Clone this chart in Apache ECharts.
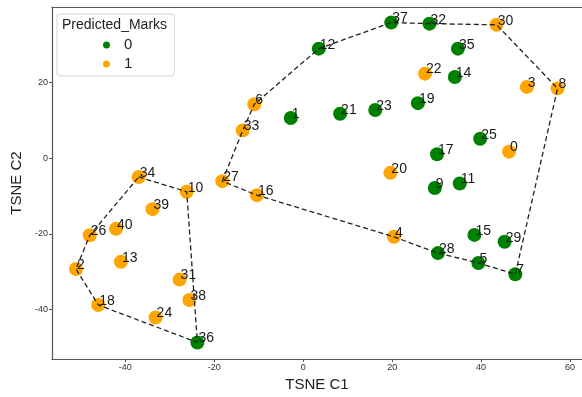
<!DOCTYPE html>
<html>
<head>
<meta charset="utf-8">
<script src="https://cdn.jsdelivr.net/npm/echarts@6/dist/echarts.min.js"></script>
<style>
  html, body { margin: 0; padding: 0; background: #fff; }
  #tsne-chart { width: 582px; height: 397px; }
</style>
</head>
<body>
<div id="tsne-chart"></div>
<script>
// t-SNE coordinates, indexed by point id (0..40)
const tsneC1 = [46.3, -2.8, -51.1, 50.3, 20.4, 39.4, -11.0, 47.7, 57.2, 29.6,
  -26.2, 35.2, 3.5, -41.0, 34.1, 38.5, -10.4, 30.1, -46.1, 25.8,
  19.6, 8.3, 27.4, 16.2, -33.2, 39.8, -48.0, -18.2, 30.3, 45.3,
  43.5, -27.8, 28.4, -13.6, -37.0, 34.8, -23.8, 19.8, -25.6, -33.9, -42.1]
const tsneC2 = [1.7, 10.6, -29.3, 18.8, -20.8, -27.7, 14.2, -30.7, 18.4, -7.9,
  -8.9, -6.7, 28.9, -27.4, 21.4, -20.3, -9.8, 1.0, -38.8, 14.5,
  -3.9, 11.7, 22.3, 12.7, -42.1, 5.1, -20.4, -6.1, -25.1, -22.1,
  35.2, -32.1, 35.5, 7.3, -5.0, 28.9, -48.7, 35.8, -37.5, -13.5, -18.7]
const predictedMarks = [1, 0, 1, 1, 1, 0, 1, 0, 1, 0,
  1, 0, 0, 1, 0, 0, 1, 0, 1, 0,
  1, 0, 1, 0, 1, 0, 1, 1, 0, 0,
  1, 1, 0, 1, 1, 0, 0, 0, 1, 1, 1]
const markNames = ['0', '1']
const markColors = ['#008000', '#ffa500']

// convex hull vertices of the two clusters (point ids, closed)
const hullA = [34, 10, 36, 18, 2, 26, 34]
const hullB = [27, 33, 6, 12, 37, 32, 30, 8, 7, 5, 28, 4, 16, 27]

const xTicks = [-40, -20, 0, 20, 40, 60]
const yTicks = [-40, -20, 0, 20]

const chart = echarts.init(document.getElementById('tsne-chart'))

function pointsOf(mark) {
  const out = []
  for (let i = 0; i < tsneC1.length; i++) {
    if (predictedMarks[i] === mark) out.push([tsneC1[i], tsneC2[i], i])
  }
  return out
}
function hullLine(ids) {
  return ids.map(id => [tsneC1[id], tsneC2[id]])
}

const font = 'Liberation Sans, Arial, sans-serif'

const scatterSeries = markNames.map((name, m) => ({
  name: name,
  type: 'scatter',
  symbolSize: 14,
  z: 2,
  itemStyle: { color: markColors[m], opacity: 1 },
  label: {
    show: true,
    position: [8, 3],
    align: 'left',
    verticalAlign: 'middle',
    fontSize: 14,
    fontFamily: font,
    color: '#1a1a1a',
    formatter: p => String(p.value[2])
  },
  data: pointsOf(m)
}))

const lineSeries = [hullA, hullB].map(h => ({
  type: 'line',
  z: 3,
  silent: true,
  symbol: 'none',
  lineStyle: { color: '#222', width: 1.3, type: [5, 3] },
  data: hullLine(h)
}))

const option = {
  animation: false,
  backgroundColor: '#fff',
  grid: { left: 52, right: -6, top: 7, bottom: 32 },
  title: {
    text: 'Predicted_Marks',
    left: 62,
    top: 18,
    padding: 0,
    textStyle: { fontSize: 14, fontWeight: 'normal', fontFamily: font, color: '#222' }
  },
  legend: {
    data: markNames,
    orient: 'vertical',
    left: 57,
    top: 14,
    padding: [23, 42, 4, 46],
    itemGap: 3,
    itemWidth: 7,
    itemHeight: 7,
    icon: 'circle',
    backgroundColor: 'rgba(255,255,255,0.85)',
    borderColor: '#d5d5d5',
    borderWidth: 1,
    borderRadius: 3,
    textStyle: { fontSize: 15, lineHeight: 16, fontFamily: font, color: '#222', padding: [0, 0, 0, 9] }
  },
  xAxis: [{
    type: 'value',
    min: -56.5,
    max: 62.7,
    name: 'TSNE C1',
    nameLocation: 'middle',
    nameGap: 16,
    nameTextStyle: { fontSize: 15, fontFamily: font, color: '#222' },
    axisLine: { show: true, onZero: false, lineStyle: { color: '#555', width: 1.2 } },
    axisTick: { show: true, length: 3, customValues: xTicks, lineStyle: { color: '#555' } },
    axisLabel: { customValues: xTicks, fontSize: 9, fontFamily: font, color: '#333', margin: 4 },
    splitLine: { show: false }
  }, {
    type: 'value',
    position: 'top',
    min: -56.5,
    max: 62.7,
    axisLine: { show: true, onZero: false, lineStyle: { color: '#555', width: 1.2 } },
    axisTick: { show: false },
    axisLabel: { show: false },
    splitLine: { show: false }
  }],
  yAxis: {
    type: 'value',
    min: -53.1,
    max: 39.9,
    name: 'TSNE C2',
    nameLocation: 'middle',
    nameGap: 23,
    nameTextStyle: { fontSize: 15, fontFamily: font, color: '#222' },
    axisLine: { show: true, onZero: false, lineStyle: { color: '#555', width: 1.2 } },
    axisTick: { show: true, length: 3, customValues: yTicks, lineStyle: { color: '#555' } },
    axisLabel: { customValues: yTicks, fontSize: 9, fontFamily: font, color: '#333', margin: 4 },
    splitLine: { show: false }
  },
  series: scatterSeries.concat(lineSeries)
}

chart.setOption(option)
</script>
</body>
</html>
